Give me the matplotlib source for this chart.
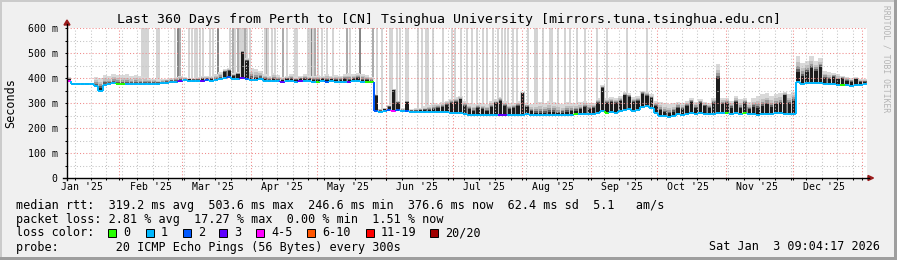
import numpy as np
import matplotlib
matplotlib.use("Agg")
import matplotlib.pyplot as plt
import matplotlib.dates as mdates
from matplotlib.collections import LineCollection
from matplotlib.patches import Rectangle, Polygon
from matplotlib.lines import Line2D

# ---------------- data ----------------
window_start = "2025-01-08T09:04:17"
window_days = 360
bin_days = 2

# median RTT per 2-day bin (ms)
median_ms = [
    # Jan 8 - Feb 1
    390, 377, 376, 376, 377, 376, 368, 350, 374, 376, 381, 378,
    # Feb
    377, 377, 376, 376, 376, 377, 377, 378, 378, 380, 382, 385, 386, 388,
    # Mar
    391, 390, 388, 388, 390, 392, 390, 392, 395, 400, 405, 398, 396, 400, 398,
    # Apr
    394, 392, 395, 390, 388, 390, 388, 386, 388, 388, 386, 388, 390, 388, 386,
    # May
    386, 388, 386, 388, 386, 385, 386, 385, 388, 390, 386, 384, 383,
    # late May - Jun
    268, 265, 268, 272, 270, 272, 268, 270, 266, 265, 265, 264, 265, 265, 265, 264, 264, 262,
    # Jul
    262, 260, 258, 252, 252, 253, 252, 252, 253, 252, 252, 253, 252, 252, 253,
    # Aug
    254, 255, 252, 252, 252, 253, 252, 252, 253, 254, 253, 252, 255, 258, 256, 258,
    # Sep
    255, 262, 268, 262, 265, 262, 268, 272, 275, 270, 272, 285, 288, 280, 262,
    # Oct
    250, 247, 246, 248, 255, 252, 258, 260, 255, 262, 258, 255, 258, 262, 260,
    # Nov
    262, 256, 262, 255, 262, 256, 258, 254, 256, 258, 255, 260, 262, 258, 255, 258,
    # Dec
    385, 378, 380, 382, 380, 382, 378, 376, 375, 374, 372, 372, 370, 372, 371, 376,
]

# top of the dense (dark) part of the smoke per bin (ms)
smoke_dense_top_ms = [
    395, 380, 379, 379, 380, 379, 372, 362, 378, 379, 384, 381,
    380, 380, 379, 379, 379, 380, 380, 381, 381, 383, 386, 389, 390, 393,
    396, 395, 393, 393, 396, 398, 396, 398, 402, 425, 430, 410, 415, 505, 470,
    402, 400, 402, 396, 394, 397, 394, 392, 396, 396, 393, 396, 398, 396, 393,
    393, 396, 393, 396, 394, 393, 396, 394, 397, 399, 394, 391, 389,
    330, 270, 275, 285, 352, 302, 272, 305, 270, 270, 272, 272, 274, 276, 280, 285, 292, 300,
    305, 315, 290, 275, 270, 280, 275, 270, 285, 300, 310, 290, 275, 280, 290,
    340, 285, 268, 262, 260, 262, 265, 264, 260, 262, 265, 268, 270, 275, 285, 278,
    280, 300, 362, 300, 305, 300, 310, 332, 325, 305, 310, 338, 330, 320, 290,
    272, 264, 260, 265, 282, 278, 288, 305, 282, 302, 288, 282, 302, 402, 298,
    302, 282, 305, 280, 302, 275, 285, 280, 290, 295, 285, 295, 300, 332, 300, 310,
    425, 410, 425, 440, 430, 445, 400, 395, 405, 395, 400, 390, 385, 395, 385, 385,
]

# top of the whole smoke (highest ping) per bin (ms)
smoke_max_top_ms = [
    405, 382, 381, 381, 382, 381, 405, 400, 412, 410, 415, 412,
    412, 415, 410, 412, 408, 405, 400, 398, 395, 395, 398, 400, 405, 410,
    405, 400, 400, 405, 410, 408, 410, 415, 425, 435, 440, 420, 425, 510, 480,
    440, 438, 430, 415, 410, 420, 412, 405, 410, 415, 405, 410, 415, 412, 410,
    412, 410, 415, 408, 412, 410, 418, 420, 415, 420, 418, 412, 405,
    335, 278, 282, 292, 356, 310, 280, 310, 276, 280, 282, 288, 292, 300, 298, 305, 310, 318,
    325, 330, 310, 300, 295, 300, 300, 295, 310, 315, 325, 310, 300, 300, 310,
    345, 300, 295, 300, 305, 300, 310, 305, 300, 295, 305, 300, 300, 305, 310, 300,
    300, 320, 372, 320, 325, 320, 330, 345, 340, 325, 330, 350, 345, 335, 310,
    305, 300, 295, 300, 305, 300, 310, 320, 305, 315, 305, 300, 320, 455, 320,
    320, 310, 330, 315, 320, 305, 320, 330, 335, 340, 330, 335, 340, 345, 335, 345,
    490, 460, 470, 490, 470, 480, 430, 425, 420, 415, 410, 405, 400, 405, 398, 395,
]

# lost pings (of 20) per bin -> colour of the median line
lost_pings = [
    4, 1, 1, 1, 1, 1, 1, 1, 1, 1, 1, 0,
    0, 1, 1, 1, 1, 1, 1, 1, 1, 1, 1, 1, 1, 3,
    1, 1, 1, 1, 3, 2, 1, 1, 1, 1, 2, 1, 1, 3, 2,
    1, 1, 1, 1, 1, 1, 1, 3, 1, 1, 1, 3, 1, 1, 1,
    0, 1, 2, 1, 1, 1, 1, 3, 1, 1, 1, 0, 0,
    2, 1, 1, 2, 4, 2, 1, 2, 1, 1, 1, 1, 1, 1, 1, 1, 1, 1,
    1, 1, 1, 1, 1, 1, 1, 1, 1, 1, 3, 3, 1, 1, 1,
    1, 1, 1, 1, 1, 1, 1, 1, 1, 1, 1, 1, 0, 1, 1, 1,
    1, 1, 1, 0, 1, 1, 1, 1, 1, 1, 1, 1, 1, 1, 1,
    1, 1, 1, 1, 1, 1, 1, 1, 1, 1, 1, 1, 1, 1, 1,
    0, 1, 1, 1, 0, 1, 1, 1, 1, 1, 1, 1, 1, 1, 1, 1,
    1, 1, 1, 1, 1, 1, 1, 1, 1, 1, 0, 1, 1, 1, 1, 1,
]

# outlier pings above the chart top: day within the window, number of such pings
spike_day = [33.6, 34.7, 35.6, 36.6, 40.4, 41.4, 48.4, 50.1, 50.9, 54.9, 56.3, 57.6, 58.4,
             59.9, 61.2, 64.4, 65.8, 68.1, 73.4, 74.8, 75.6, 77.1, 77.9, 78.6, 79.3, 80.1,
             80.9, 82.4, 89.1, 89.9, 90.6, 92.1, 93.6, 97.3, 98.9, 102.6, 103.4, 108.6,
             109.4, 110.1, 110.8, 111.6, 113.0, 114.6, 117.0, 119.8, 125.9, 127.4, 131.9,
             137.8, 139.4, 141.6, 145.4, 146.2, 148.4, 149.9, 152.5, 153.6, 158.1, 159.6,
             161.5, 162.6, 164.8, 169.3, 173.3, 174.6, 177.3, 179.9, 182.1, 184.5, 187.3,
             189.0, 191.8, 193.9, 195.8, 197.1, 198.5, 200.7, 202.4, 207.5, 210.6, 211.4,
             214.2, 217.4, 218.3, 221.0, 224.1, 226.4, 229.4, 233.1, 238.4, 242.9, 252.0,
             260.9]
spike_pings = [1, 1, 1, 1, 1, 1, 1, 3, 2, 1, 1, 1, 1,
               1, 1, 1, 1, 3, 1, 2, 1, 2, 1, 1, 1, 2,
               1, 1, 1, 2, 1, 1, 1, 2, 1, 1, 1, 1,
               1, 3, 1, 2, 1, 1, 1, 1, 2, 1, 3,
               2, 1, 1, 1, 1, 1, 1, 1, 1, 1, 1,
               1, 1, 1, 1, 1, 1, 1, 1, 1, 1, 1,
               1, 1, 1, 1, 1, 1, 1, 1, 1, 1, 1,
               1, 1, 1, 1, 1, 1, 1, 1, 1, 1, 1,
               1]

y_ticks = [0, 100, 200, 300, 400, 500, 600]
y_tick_labels = ["0", "100 m", "200 m", "300 m", "400 m", "500 m", "600 m"]
month_names = ["Jan", "Feb", "Mar", "Apr", "May", "Jun", "Jul", "Aug", "Sep", "Oct", "Nov", "Dec"]

loss_labels = ["0", "1", "2", "3", "4-5", "6-10", "11-19", "20/20"]
loss_lower = [0, 1, 2, 3, 4, 6, 11, 20]
loss_colors = ["#26ff00", "#00b8ff", "#0059ff", "#5e00ff", "#ff00ff", "#ff5500", "#ff0000", "#a00000"]

title = "Last 360 Days from Perth to [CN] Tsinghua University [mirrors.tuna.tsinghua.edu.cn]"
legend_rtt = "median rtt:  319.2 ms avg  503.6 ms max  246.6 ms min  376.6 ms now  62.4 ms sd  5.1   am/s"
legend_loss = "packet loss: 2.81 % avg  17.27 % max  0.00 % min  1.51 % now"
legend_probe = "probe:        20 ICMP Echo Pings (56 Bytes) every 300s"
stamp = "Sat Jan  3 09:04:17 2026"

# ---------------- drawing ----------------
assert len(median_ms) == len(smoke_dense_top_ms) == len(smoke_max_top_ms) == len(lost_pings) == 180
assert len(spike_day) == len(spike_pings)

plt.rcParams["font.family"] = ["DejaVu Sans Mono"]
W, H = 897, 260
fig = plt.figure(figsize=(W / 100, H / 100), dpi=100, facecolor="#F0F0F0")


def fx(px):
    return px / W


def fy(py):
    return 1 - py / H


L, R, T, B = 67, 867, 28, 178
ax = fig.add_axes([fx(L), fy(B), (R - L) / W, (B - T) / H])
ax.set_facecolor("white")
for s in ax.spines.values():
    s.set_visible(False)

t0 = np.datetime64(window_start)
t1 = t0 + np.timedelta64(window_days, "D")
edges = t0 + np.arange(len(median_ms) + 1) * np.timedelta64(bin_days, "D")
xe = mdates.date2num(edges)
xc = (xe[:-1] + xe[1:]) / 2
x0, x1 = mdates.date2num(t0), mdates.date2num(t1)
ax.set_xlim(x0, x1)
ax.set_ylim(0, 600)

med = np.array(median_ms, float)
dense = np.array(smoke_dense_top_ms, float)
mx = np.array(smoke_max_top_ms, float)


def ext(a):
    return np.append(a, a[-1])


# outlier spikes
sd = np.array(spike_day)
sx = mdates.date2num(t0 + (sd * 86400).astype("timedelta64[s]"))
base = med[(sd // bin_days).astype(int)]
shade = {1: "#d4d4d4", 2: "#ababab", 3: "#858585"}
ax.bar(sx, 600 - base, bottom=base, width=0.9, color=[shade[p] for p in spike_pings],
       linewidth=0, zorder=1.5)

# smoke: light envelope continuous, denser shades as narrower needles
ax.fill_between(xe, ext(med), ext(mx), step="post", color="#d9d9d9", lw=0, zorder=2)
for f, c, w in [(0.6, "#c0c0c0", 1.8), (0.35, "#9a9a9a", 1.65), (0.15, "#606060", 1.55)]:
    top = dense + f * (mx - dense)
    ax.bar(xc, top - med, bottom=med, width=w, color=c, lw=0, zorder=2.1)
ax.bar(xc, dense - (med - 4), bottom=med - 4, width=1.5, color="#1c1c1c", lw=0, zorder=2.2)

# grid
sundays = np.arange(np.datetime64("2025-01-12"), t1.astype("datetime64[D]"), np.timedelta64(7, "D"))
month_starts = np.arange(np.datetime64("2025-02"), np.datetime64("2026-02"), np.timedelta64(1, "M"))
mx_dates = mdates.date2num(month_starts.astype("datetime64[D]"))
mx_dates = mx_dates[(mx_dates > x0) & (mx_dates < x1)]
minor_col = "#c4c4c4"
major_col = "#f08a8a"
dot = (0, (1, 2))
ax.vlines(mdates.date2num(sundays), 0, 600, colors=minor_col, linestyles=dot, lw=0.75, zorder=3)
ax.hlines(np.arange(50, 600, 100), x0, x1, colors=minor_col, linestyles=dot, lw=0.75, zorder=3)
ax.vlines(mx_dates, 0, 600, colors=major_col, linestyles=dot, lw=0.75, zorder=3)
ax.hlines(np.arange(100, 601, 100), x0, x1, colors=major_col, linestyles=dot, lw=0.75, zorder=3)


# median line coloured by loss
def loss_color(n):
    idx = 0
    for i, lo in enumerate(loss_lower):
        if n >= lo:
            idx = i
    return loss_colors[idx]


segs, cols = [], []
for i in range(len(med)):
    c = loss_color(lost_pings[i])
    segs.append([(xe[i], med[i]), (xe[i + 1], med[i])])
    cols.append(c)
    if i > 0 and med[i] != med[i - 1]:
        segs.append([(xe[i], med[i - 1]), (xe[i], med[i])])
        cols.append(c)
ax.add_collection(LineCollection(segs, colors=cols, linewidths=1.4, zorder=4, capstyle="butt"))

# ticks
ax.set_yticks(y_ticks)
ax.set_yticklabels(y_tick_labels)
ax.set_yticks(np.arange(50, 600, 100), minor=True)
ax.tick_params(axis="y", which="both", direction="out", length=1.6, width=0.75, pad=5,
               labelsize=7.1, colors="black")

lab_pos, lab_txt = [], []
for m in np.arange(np.datetime64("2025-01"), np.datetime64("2026-02"), np.timedelta64(1, "M")):
    mid = m.astype("datetime64[D]") + np.timedelta64(14, "D")
    if t0 <= mid <= t1:
        year = int(str(m)[:4])
        month = int(str(m)[5:7])
        lab_pos.append(mdates.date2num(mid))
        lab_txt.append(f"{month_names[month - 1]} '{year % 100:02d}")
ax.set_xticks(lab_pos)
ax.set_xticklabels(lab_txt)
ax.set_xticks(np.concatenate([mdates.date2num(sundays), mx_dates]), minor=True)
ax.tick_params(axis="x", which="major", length=0, pad=3, labelsize=7.1)
ax.tick_params(axis="x", which="minor", direction="out", length=1.6, width=0.75)


# axis lines and arrows (figure pixel coords)
def fline(xs, ys, **kw):
    fig.add_artist(Line2D([fx(v) for v in xs], [fy(v) for v in ys], **kw))


fline([L, L], [B + 2, 24], color="black", lw=1.0)
fline([63, 869], [B, B], color="black", lw=1.0)
arrow_col = "#9b1b1b"
fig.add_artist(Polygon([(fx(64), fy(25)), (fx(70), fy(25)), (fx(67), fy(20))],
                       closed=True, color=arrow_col, transform=fig.transFigure))
fig.add_artist(Polygon([(fx(868), fy(175.5)), (fx(868), fy(180.5)), (fx(873.5), fy(178))],
                       closed=True, color=arrow_col, transform=fig.transFigure))

# texts
fig.text(fx(448.5), fy(23), title, ha="center", va="baseline", fontsize=9.5)
fig.text(fx(11), fy(103), "Seconds", rotation=90, ha="center", va="center", fontsize=8.5)
fig.text(fx(886), fy(5), "RRDTOOL / TOBI OETIKER", rotation=270, ha="center", va="top",
         fontsize=5.8, color="#b4b4b4")

fig.text(fx(16), fy(208.5), legend_rtt, ha="left", va="baseline", fontsize=8.5)
fig.text(fx(16), fy(222.5), legend_loss, ha="left", va="baseline", fontsize=8.5)
fig.text(fx(16), fy(236.5), "loss color:", ha="left", va="baseline", fontsize=8.5)
box_x = [108, 146, 183, 219, 256, 307, 366, 430]
for bx, lab, c in zip(box_x, loss_labels, loss_colors):
    fig.add_artist(Rectangle((fx(bx), fy(237)), 8 / W, 8 / H, transform=fig.transFigure,
                             facecolor=c, edgecolor="black", lw=0.7))
    fig.text(fx(bx + 15), fy(236.5), lab, ha="left", va="baseline", fontsize=8.5)
fig.text(fx(16), fy(250.5), legend_probe, ha="left", va="baseline", fontsize=8.5)
fig.text(fx(880), fy(250.5), stamp, ha="right", va="baseline", fontsize=8.5)

# 3D frame
fig.add_artist(Rectangle((0, 1 - 2 / H), 1, 2 / H, transform=fig.transFigure, color="#cbcbcb", lw=0))
fig.add_artist(Rectangle((0, 0), 2 / W, 1, transform=fig.transFigure, color="#cbcbcb", lw=0))
fig.add_artist(Rectangle((0, 0), 1, 3 / H, transform=fig.transFigure, color="#9e9e9e", lw=0))
fig.add_artist(Rectangle((1 - 3 / W, 0), 3 / W, 1, transform=fig.transFigure, color="#9e9e9e", lw=0))

fig.savefig("out.png", dpi=100, facecolor=fig.get_facecolor())
